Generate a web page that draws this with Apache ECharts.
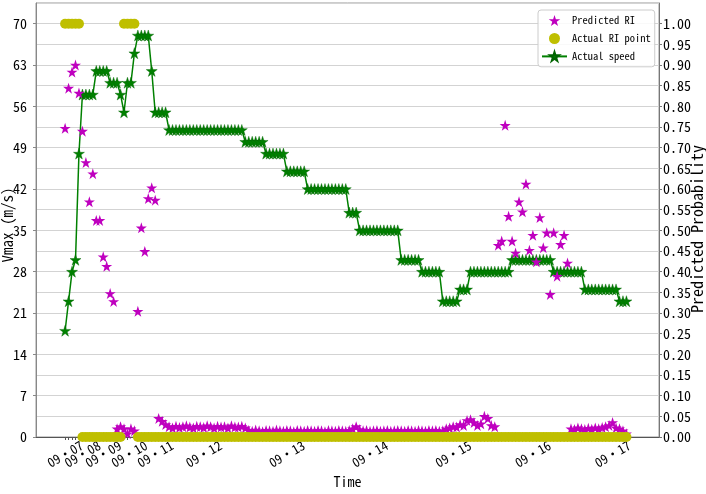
<!DOCTYPE html>
<html>
<head>
<meta charset="utf-8">
<script src="https://cdn.jsdelivr.net/npm/echarts@6/dist/echarts.min.js"></script>
<style>
html,body{margin:0;padding:0;background:#fff;}
#chart{width:706px;height:494px;}
</style>
</head>
<body>
<div id="chart"></div>
<script>
// ---- data (index = time step) ----
const dateLabels = ['09·07','09·08','09·09','09·10','09·11','09·12','09·13','09·14','09·15','09·16','09·17'];
const dateLabelPos = [0, 5, 11, 18.5, 26, 40, 64, 88, 112, 135, 158];
const tickPos = [0,1,2,3,4,5,6,7,8,10,12,14,16,18,20,22,24,26,28,30,33,36,39,42,46,52,58,64,70,76,82,88,94,100,106,112,118,124,129,135,141,147,153,158,160,162];

const speed = [
 18,23,28,30,48,58,58,58,58,62,62,62,62,60,60,60,58,55,60,60,
 65,68,68,68,68,62,55,55,55,55,
 52,52,52,52,52,52,52,52,52,52,52,52,52,52,52,52,52,52,52,52,52,52,
 50,50,50,50,50,50,
 48,48,48,48,48,48,
 45,45,45,45,45,45,
 42,42,42,42,42,42,42,42,42,42,42,42,
 38,38,38,
 35,35,35,35,35,35,35,35,35,35,35,35,
 30,30,30,30,30,30,
 28,28,28,28,28,28,
 23,23,23,23,23,
 25,25,25,
 28,28,28,28,28,28,28,28,28,28,28,28,
 30,30,30,30,30,30,30,30,30,30,30,30,
 28,28,28,28,28,28,28,28,28,
 25,25,25,25,25,25,25,25,25,25,
 23,23,23,
 20
];

const predictedRI = [
 0.747,0.844,0.883,0.900,0.832,0.740,0.664,0.569,0.637,0.524,0.524,0.436,0.413,0.347,0.328,
 0.020,0.025,0.020,0.008,0.020,0.015,
 0.304,0.506,0.449,0.577,0.603,0.573,
 0.045,0.038,0.030,
 0.025,0.022,0.026,0.023,0.025,0.027,0.024,0.022,0.026,0.025,
 0.023,0.027,0.025,0.022,0.026,0.024,0.025,0.022,0.027,0.024,
 0.024,0.026,0.022,
 0.016,0.014,0.017,0.015,0.013,0.016,0.015,0.014,0.017,0.015,
 0.014,0.016,0.015,0.013,0.016,0.015,0.014,0.016,0.015,0.014,
 0.016,0.015,0.013,0.016,0.015,0.014,0.016,0.015,0.014,0.016,
 0.020,0.025,0.018,0.015,0.016,0.014,0.015,0.016,0.014,0.015,
 0.016,0.014,0.015,0.016,0.015,0.014,0.016,0.015,0.014,0.016,
 0.015,0.014,0.016,0.015,0.016,0.014,0.015,
 0.020,0.022,0.025,0.024,0.030,0.028,0.040,0.042,0.035,0.028,0.032,0.050,0.045,0.028,0.025,
 0.464,0.474,0.754,0.534,0.474,0.445,0.569,0.545,0.612,0.452,0.488,0.424,0.531,0.458,0.494,0.345,0.494,0.389,0.466,0.488,0.421,
 0.020,0.018,0.022,0.020,0.018,0.021,0.019,0.022,0.020,0.023,0.025,0.028,0.035,0.022,0.020,0.015,0.008
];

const actualRI = [
 1,1,1,1,1,0,0,0,0,0,0,0,0,0,0,0,0,1,1,1,1,
 0,0,0,0,0,0,0,0,0,0,0,0,0,0,0,0,0,0,0,0,0,0,0,0,0,0,0,0,0,0,0,0,0,0,0,0,0,0,0,0,0,0,0,0,0,0,0,0,0,
 0,0,0,0,0,0,0,0,0,0,0,0,0,0,0,0,0,0,0,0,0,0,0,0,0,0,0,0,0,0,0,0,0,0,0,0,0,0,0,0,0,0,0,0,0,0,0,0,0,0,
 0,0,0,0,0,0,0,0,0,0,0,0,0,0,0,0,0,0,0,0,0,0,0,0,0,0,0,0,0,0,0,0,0,0,0,0,0,0,0,0,0,0,0,0,0,0,0,0,0,0,0,0,0
];

// ---- axis extent & marker shape ----
const X_MIN = -8.4, X_MAX = 171.4;

function starPath() {
  let d = '';
  for (let k = 0; k < 10; k++) {
    const r = k % 2 ? 0.382 : 1;
    const a = -Math.PI / 2 + k * Math.PI / 5;
    d += (k ? 'L' : 'M') + (r * Math.cos(a)).toFixed(4) + ',' + (r * Math.sin(a)).toFixed(4) + ' ';
  }
  return 'path://' + d + 'Z';
}
const STAR = starPath();
const FONT = "'Noto Sans Mono CJK SC', 'Liberation Mono', monospace";

const n = Math.min(speed.length, predictedRI.length, actualRI.length);
const idx = Array.from({length: n}, (_, i) => i);

// date labels are spread over three overlaid bottom axes so that
// overlapping neighbours (as in the original figure) are all kept
const GROUPS = 3;
function labelAxis(g) {
  const vals = dateLabelPos.filter((_, k) => k % GROUPS === g);
  const main = g === 0;
  return {
    type: 'value', min: X_MIN, max: X_MAX, position: 'bottom', offset: 0,
    name: main ? 'Time' : '', nameLocation: 'middle', nameGap: 38, nameMoveOverlap: false,
    nameTextStyle: {fontFamily: FONT, fontSize: 14, color: '#000'},
    axisLine: {show: main, onZero: false, lineStyle: {color: '#555', width: 1}},
    axisTick: {show: main, customValues: tickPos, length: 3, lineStyle: {color: '#555'}},
    axisLabel: {
      customValues: [X_MIN].concat(vals, [X_MAX]),
      formatter: v => { const k = dateLabelPos.indexOf(v); return k >= 0 ? dateLabels[k] : ''; },
      rotate: 30, align: 'center', verticalAlign: 'middle', margin: 17,
      hideOverlap: false,
      fontFamily: FONT, fontSize: 13, color: '#000'
    },
    splitLine: {show: false}
  };
}

const chart = echarts.init(document.getElementById('chart'), null, {renderer: 'canvas'});
chart.setOption({
  animation: false,
  backgroundColor: '#ffffff',
  textStyle: {fontFamily: FONT},
  grid: {left: 36, right: 47, top: 3, bottom: 57, show: true, borderColor: '#999', borderWidth: 1,
         containLabel: false, outerBoundsMode: 'none'},
  legend: {
    data: [
      {name: 'Predicted RI', icon: STAR},
      {name: 'Actual RI point', icon: 'circle'},
      {name: 'Actual speed'}
    ],
    orient: 'vertical',
    left: 538, top: 10,
    padding: [5, 4, 5, 3],
    itemWidth: 25, itemHeight: 11, itemGap: 7,
    borderColor: '#cccccc', borderWidth: 1, borderRadius: 3,
    backgroundColor: 'rgba(255,255,255,0.85)',
    textStyle: {fontFamily: FONT, fontSize: 10.5, color: '#000'}
  },
  xAxis: Array.from({length: GROUPS}, (_, g) => labelAxis(g)),
  yAxis: [
    {
      type: 'value', position: 'left', min: 0, max: 73.5, interval: 7,
      name: 'Vmax (m/s)', nameLocation: 'middle', nameGap: 21, nameMoveOverlap: false,
      nameTextStyle: {fontFamily: FONT, fontSize: 15, color: '#000', padding: [0, 10, 0, 0]},
      axisLine: {show: true, onZero: false, lineStyle: {color: '#888'}},
      axisTick: {show: true, length: 3, lineStyle: {color: '#888'}},
      axisLabel: {showMaxLabel: false, margin: 9, fontFamily: FONT, fontSize: 14, color: '#000'},
      splitLine: {show: false}
    },
    {
      type: 'value', position: 'right', min: 0, max: 1.05, interval: 0.05,
      name: 'Predicted Probability', nameLocation: 'middle', nameGap: 30, nameMoveOverlap: false,
      nameTextStyle: {fontFamily: FONT, fontSize: 16, color: '#000', padding: [0, 18, 0, 0]},
      axisLine: {show: true, onZero: false, lineStyle: {color: '#777'}},
      axisTick: {show: true, length: 3, lineStyle: {color: '#777'}},
      axisLabel: {showMaxLabel: false, margin: 4, fontFamily: FONT, fontSize: 14, color: '#000',
        formatter: v => v.toFixed(2)},
      splitLine: {show: true, lineStyle: {color: '#d3d3d3', width: 1.2}}
    }
  ],
  series: [
    {
      name: 'Actual speed', type: 'line', xAxisIndex: 0, yAxisIndex: 0,
      data: idx.map(i => [i, speed[i]]),
      symbol: STAR, symbolSize: 11, showAllSymbol: true,
      lineStyle: {color: '#008000', width: 1.5},
      itemStyle: {color: '#008000', borderColor: '#006400', borderWidth: 0.4},
      z: 2
    },
    {
      name: 'Predicted RI', type: 'scatter', xAxisIndex: 0, yAxisIndex: 1,
      data: idx.map(i => [i, predictedRI[i]]),
      symbol: STAR, symbolSize: 11,
      itemStyle: {color: '#bf00bf', opacity: 1},
      z: 3
    },
    {
      name: 'Actual RI point', type: 'scatter', xAxisIndex: 0, yAxisIndex: 1,
      data: idx.map(i => [i, actualRI[i]]),
      symbol: 'circle', symbolSize: 10,
      itemStyle: {color: '#bfbf00', opacity: 1},
      z: 4
    }
  ]
});
</script>
</body>
</html>
